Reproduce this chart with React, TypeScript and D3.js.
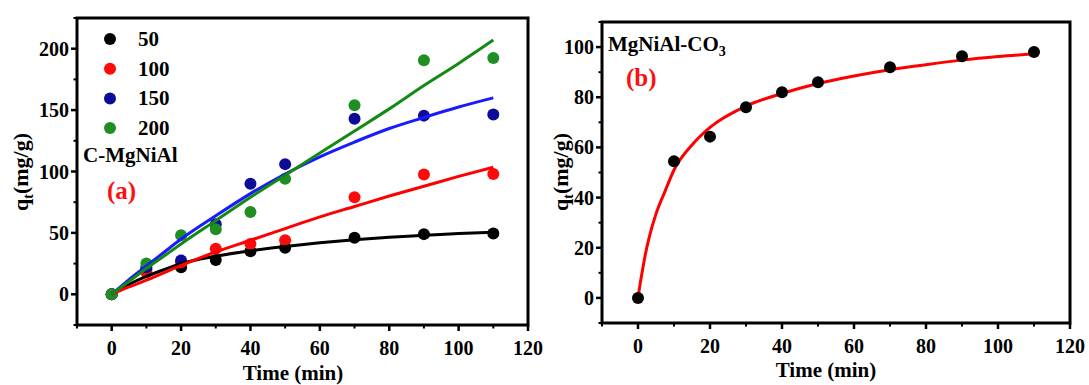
import React from 'react'
import * as d3 from 'd3'

// measured times (min)
const times = [0, 10, 20, 30, 40, 50, 70, 90, 110]

// panel (a) C-MgNiAl, initial concentrations
const seriesNames = ['50', '100', '150', '200']
const q50 = [0, 20, 22, 28, 35, 38, 46, 49, 49.5]
const q100 = [0, 18, 26, 37, 41, 44, 79, 97.5, 98]
const q150 = [0, 22, 27.5, 57, 90, 106, 143, 145.5, 146.5]
const q200 = [0, 25, 48, 53, 67, 94, 154, 190.5, 192.5]

// fitted curves
const fitTimes = [0, 5, 10, 15, 20, 30, 40, 50, 60, 70, 80, 90, 100, 110]
const fit50 = [0, 8, 14.5, 20, 25, 31, 35.5, 39, 42, 44.5, 46.5, 48, 49.5, 50.5]
const fit100 = [0, 6, 11.5, 17.5, 23.5, 34.5, 44, 53.5, 63, 71.5, 80, 88, 96, 103.5]
const fit150 = [0, 12, 23, 34, 45, 64, 82, 98, 112, 124, 135, 144, 152.5, 160]
const fit200 = [0, 10.5, 21, 31, 41, 60, 79, 97, 115, 133, 151, 170, 188, 207]

// panel (b) MgNiAl-CO3
const qCO3 = [0, 54.5, 64.3, 76, 82, 86, 92, 96.3, 98]
const fitTimesB = [0, 0.5, 1, 2, 3, 5, 7.5, 10, 15, 20, 30, 40, 50, 60, 70, 80, 90, 100, 110]
const fitCO3 = [0, 4.8, 9, 17, 23.5, 33.5, 42.5, 51, 61, 68, 76.5, 81.5, 85.5, 88.5, 91, 93, 94.8, 96.2, 97.3]

const xTicks = [0, 20, 40, 60, 80, 100, 120]
const yTicksA = [0, 50, 100, 150, 200]
const yTicksB = [0, 20, 40, 60, 80, 100]

const pointColors = ['#000000', '#ff0a0a', '#0c0c98', '#1f8f24']
const lineColors = ['#000000', '#ff0000', '#1a1aff', '#138a13']

const FONT = '"Liberation Serif", "Times New Roman", serif'

type AxisProps = {
  x: d3.ScaleLinear<number, number>
  y: d3.ScaleLinear<number, number>
  xMajor: number[]
  yMajor: number[]
  xMinor: number[]
  yMinor: number[]
}

const Frame: React.FC<AxisProps> = ({ x, y, xMajor, yMajor, xMinor, yMinor }) => {
  const [x0, x1] = x.range()
  const [y0, y1] = y.range()
  return (
    <g>
      <rect x={x0} y={y1} width={x1 - x0} height={y0 - y1} fill="none" stroke="#000" strokeWidth={3} />
      {xMajor.map((t) => (
        <g key={'xm' + t}>
          <line x1={x(t)} x2={x(t)} y1={y0} y2={y0 + 6} stroke="#000" strokeWidth={2.5} />
          <text x={x(t)} y={y0 + 30} textAnchor="middle" fontSize={20} fontWeight="bold" fontFamily={FONT}>{t}</text>
        </g>
      ))}
      {xMinor.map((t) => (
        <line key={'xn' + t} x1={x(t)} x2={x(t)} y1={y0} y2={y0 + 3.5} stroke="#000" strokeWidth={2} />
      ))}
      {yMajor.map((v) => (
        <g key={'ym' + v}>
          <line x1={x0} x2={x0 - 6} y1={y(v)} y2={y(v)} stroke="#000" strokeWidth={2.5} />
          <text x={x0 - 8} y={y(v) + 7} textAnchor="end" fontSize={20} fontWeight="bold" fontFamily={FONT}>{v}</text>
        </g>
      ))}
      {yMinor.map((v) => (
        <line key={'yn' + v} x1={x0} x2={x0 - 3.5} y1={y(v)} y2={y(v)} stroke="#000" strokeWidth={2} />
      ))}
    </g>
  )
}

const YLabel: React.FC<{ cx: number; cy: number }> = ({ cx, cy }) => (
  <text
    transform={`translate(${cx},${cy}) rotate(-90)`}
    textAnchor="middle"
    fontSize={22}
    fontWeight="bold"
    fontFamily={FONT}
  >
    q<tspan fontSize={14} dy={5}>t</tspan><tspan dy={-5}>(mg/g)</tspan>
  </text>
)

export default function App() {
  const xa = d3.scaleLinear().domain([-10, 120]).range([77, 528])
  const ya = d3.scaleLinear().domain([-25, 225]).range([325, 18])
  const xb = d3.scaleLinear().domain([-10, 120]).range([602, 1070])
  const yb = d3.scaleLinear().domain([-10, 110]).range([323, 22])

  const lineA = d3.line<[number, number]>()
    .x((d) => xa(d[0]))
    .y((d) => ya(d[1]))
    .curve(d3.curveMonotoneX)
  const lineB = d3.line<[number, number]>()
    .x((d) => xb(d[0]))
    .y((d) => yb(d[1]))
    .curve(d3.curveMonotoneX)

  const measured = [q50, q100, q150, q200]
  const fits = [fit50, fit100, fit150, fit200]

  const xMinor = [-10, 10, 30, 50, 70, 90, 110]
  const yMinorA = [-25, 25, 75, 125, 175, 225]
  const yMinorB = [-10, 10, 30, 50, 70, 90, 110]

  return (
    <svg width={1089} height={385} style={{ position: 'absolute', left: 0, top: 0, background: '#fff' }}>
      {/* panel (a) */}
      <g>
        {measured.map((vals, si) => (
          <g key={'s' + si}>
            {vals.map((v, i) => (
              <circle key={i} cx={xa(times[i])} cy={ya(v)} r={6} fill={pointColors[si]} />
            ))}
          </g>
        ))}
        {fits.map((vals, si) => (
          <path
            key={'f' + si}
            d={lineA(fitTimes.map((t, i) => [t, vals[i]] as [number, number])) || ''}
            fill="none"
            stroke={lineColors[si]}
            strokeWidth={3}
          />
        ))}
        <Frame x={xa} y={ya} xMajor={xTicks} yMajor={yTicksA} xMinor={xMinor} yMinor={yMinorA} />
        {seriesNames.map((name, i) => (
          <g key={'lg' + name}>
            <circle cx={110} cy={39 + i * 29.7} r={6} fill={pointColors[i]} />
            <text x={138} y={46 + i * 29.7} fontSize={21} fontWeight="bold" fontFamily={FONT}>{name}</text>
          </g>
        ))}
        <text x={83} y={162} fontSize={21} fontWeight="bold" fontFamily={FONT}>C-MgNiAl</text>
        <text x={107} y={199} fontSize={25} fontWeight="bold" fontFamily={FONT} fill="#ff1010">(a)</text>
        <YLabel cx={28} cy={172} />
        <text x={293} y={380} textAnchor="middle" fontSize={21} fontWeight="bold" fontFamily={FONT}>Time (min)</text>
      </g>

      {/* panel (b) */}
      <g>
        <path
          d={lineB(fitTimesB.map((t, i) => [t, fitCO3[i]] as [number, number])) || ''}
          fill="none"
          stroke="#ff0000"
          strokeWidth={3}
        />
        {qCO3.map((v, i) => (
          <circle key={i} cx={xb(times[i])} cy={yb(v)} r={6} fill="#000" />
        ))}
        <Frame x={xb} y={yb} xMajor={xTicks} yMajor={yTicksB} xMinor={xMinor} yMinor={yMinorB} />
        <text x={608} y={51} fontSize={21} fontWeight="bold" fontFamily={FONT}>
          MgNiAl-CO<tspan fontSize={14} dy={5}>3</tspan>
        </text>
        <text x={626} y={86} fontSize={25} fontWeight="bold" fontFamily={FONT} fill="#ff1010">(b)</text>
        <YLabel cx={568} cy={172} />
        <text x={826} y={377} textAnchor="middle" fontSize={21} fontWeight="bold" fontFamily={FONT}>Time (min)</text>
      </g>
    </svg>
  )
}
